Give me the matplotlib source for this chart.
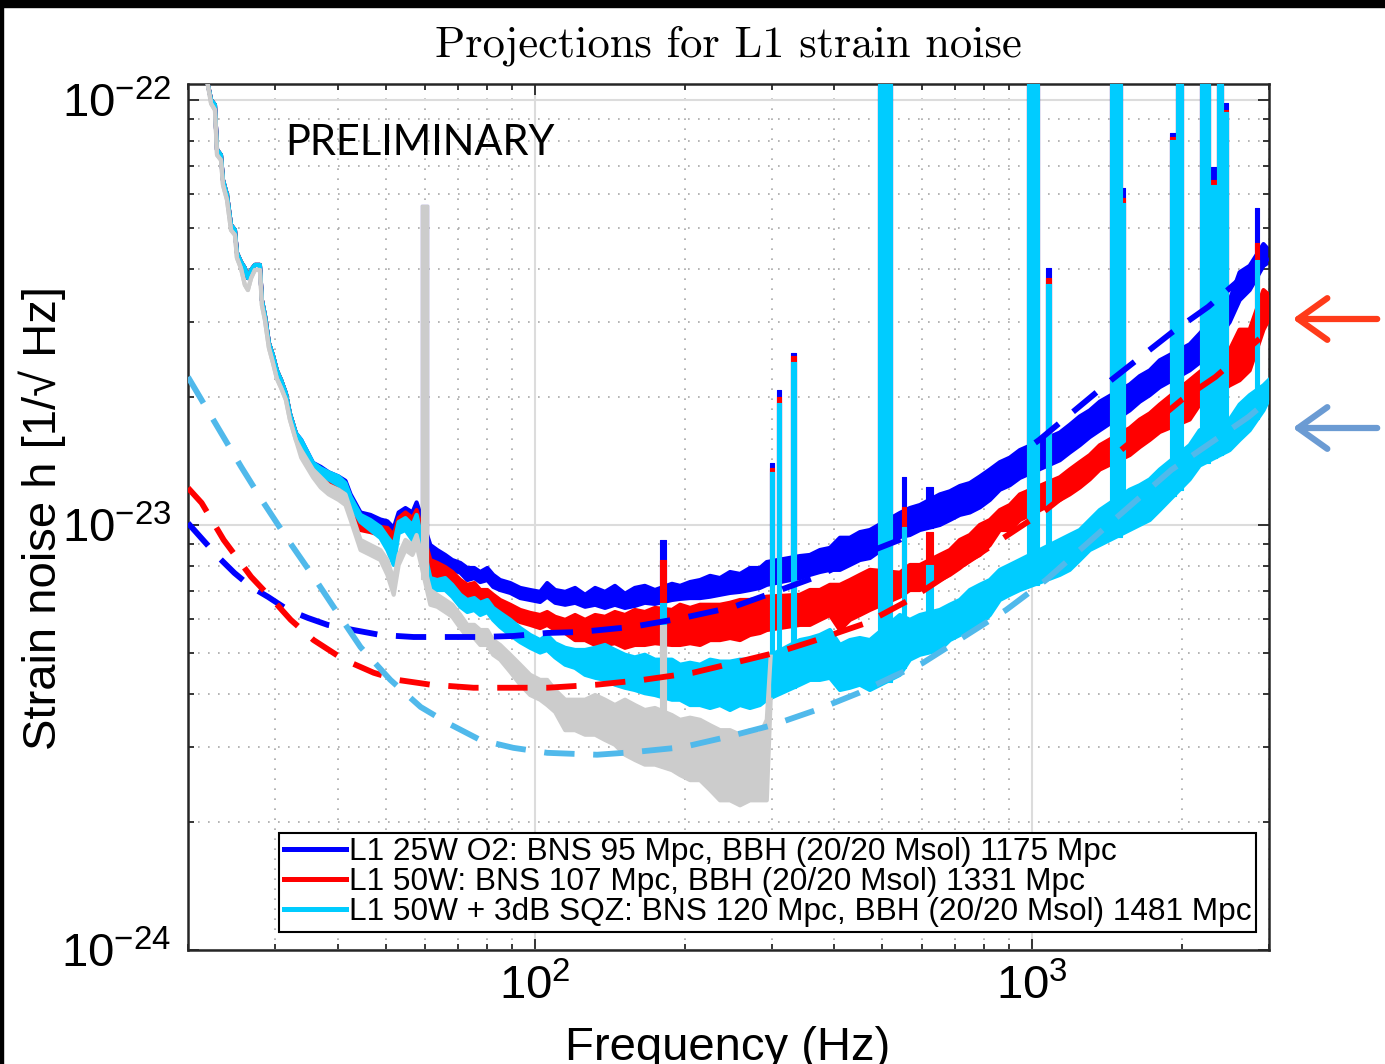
import numpy as np
import matplotlib
matplotlib.use('Agg')
import matplotlib.pyplot as plt
from matplotlib.lines import Line2D
from matplotlib.patches import FancyArrowPatch, Rectangle
from matplotlib.ticker import LogLocator, NullFormatter

### DATA ###
UNIT = 1e-23  # strain values below are in units of 1e-23 /rtHz

# low-frequency wall, shared by the three projections
lf_freq = [21.85, 22.26, 22.66, 22.88, 23.30, 23.52, 23.96, 24.41, 24.86, 25.09, 25.56, 26.03, 26.40,
           26.80, 27.27, 27.91, 28.17, 28.56, 29.10, 29.64, 30.19, 30.80, 31.48, 32.07, 32.97]
lf_strain = [11.1, 10.0, 9.73, 7.63, 7.42, 6.48, 5.98, 5.08, 4.94, 4.37, 4.16, 4.02, 3.81,
             3.98, 4.09, 4.09, 3.38, 3.12, 2.68, 2.51, 2.31, 2.19, 2.04, 1.83, 1.645]
gray_lf_strain = [11.1, 9.8, 9.47, 7.42, 7.22, 6.31, 5.82, 4.94, 4.81, 4.25, 4.02, 3.67, 3.57,
                  3.81, 3.98, 3.98, 3.29, 3.04, 2.61, 2.41, 2.21, 2.10, 1.97, 1.77, 1.585]

# noise band (top / bottom envelope) above ~34 Hz
band_freq = [33.8, 35.7, 37.0, 38.4, 40.2, 41.5, 42.5, 44.5, 46.6, 48.8, 50.4, 51.9, 53.1, 54.8, 56.6,
             57.7, 61.5, 63.5, 65.9, 68.1, 70.7, 73.0, 75.4, 77.5, 80.1, 82.3, 85.0, 89.1, 93.3, 97.7,
             102.3, 105.7, 109.7, 114.9, 120.3, 126.0, 132.0, 138.2, 144.7, 151.6, 158.7, 166.2, 174.2,
             188.5, 195.7, 205.0, 214.7, 224.9, 235.5, 246.7, 258.4, 270.6, 283.4, 292.5, 341.1, 357.3,
             374.2, 392.0, 410.6, 430.0, 450.4, 471.8, 542.1, 567.8, 594.8, 652.5, 683.4, 715.8, 749.8,
             785.3, 822.6, 861.6, 902.4, 945.2, 1138, 1191, 1248, 1307, 1369, 1573, 1648, 1726, 1808,
             2077, 2176, 2500, 2618, 2743, 2924, 2995]

blue_top = [1.585, 1.40, 1.37, 1.33, 1.30, 1.27, 1.18, 1.07, 1.056, 1.03, 1.02, 0.984, 1.07, 1.096, 1.07,
            1.13, 0.897, 0.873, 0.850, 0.827, 0.814, 0.792, 0.792, 0.775, 0.792, 0.763, 0.742, 0.730,
            0.711, 0.703, 0.696, 0.730, 0.703, 0.696, 0.711, 0.685, 0.711, 0.696, 0.719, 0.689, 0.711,
            0.719, 0.703, 0.727, 0.719, 0.734, 0.742, 0.759, 0.750, 0.775, 0.767, 0.792, 0.792, 0.818,
            0.845, 0.850, 0.873, 0.883, 0.933, 0.933, 0.962, 0.973, 1.067, 1.096, 1.114, 1.18, 1.20,
            1.235, 1.255, 1.30, 1.35, 1.405, 1.44, 1.50, 1.65, 1.72, 1.80, 1.86, 1.95, 2.14, 2.24, 2.31,
            2.44, 2.66, 2.82, 3.38, 3.93, 4.07, 4.58, 4.44]
blue_bot = [1.52, 1.36, 1.32, 1.29, 1.25, 1.22, 1.13, 1.03, 1.01, 0.99, 0.978, 0.897, 1.02, 1.045, 1.02,
            1.07, 0.836, 0.818, 0.805, 0.784, 0.772, 0.742, 0.750, 0.734, 0.742, 0.715, 0.703, 0.692,
            0.673, 0.666, 0.659, 0.678, 0.656, 0.649, 0.656, 0.642, 0.649, 0.638, 0.649, 0.638, 0.645,
            0.656, 0.652, 0.666, 0.670, 0.673, 0.673, 0.678, 0.685, 0.692, 0.696, 0.703, 0.711, 0.723,
            0.750, 0.763, 0.775, 0.784, 0.784, 0.805, 0.827, 0.836, 0.937, 0.947, 0.973, 1.0, 1.027,
            1.056, 1.07, 1.10, 1.145, 1.21, 1.24, 1.29, 1.42, 1.48, 1.54, 1.61, 1.67, 1.86, 1.95, 2.02,
            2.11, 2.31, 2.41, 3.00, 3.38, 3.57, 4.07, 4.15]

red_top = [1.54, 1.38, 1.35, 1.31, 1.295, 1.24, 1.145, 1.016, 1.0, 0.989, 0.984, 0.947, 1.038, 1.07, 1.038,
           1.084, 0.827, 0.814, 0.796, 0.775, 0.742, 0.723, 0.730, 0.703, 0.703, 0.685, 0.666, 0.649,
           0.631, 0.621, 0.614, 0.624, 0.608, 0.598, 0.614, 0.598, 0.614, 0.608, 0.624, 0.614, 0.631,
           0.624, 0.638, 0.631, 0.649, 0.638, 0.649, 0.649, 0.649, 0.656, 0.666, 0.666, 0.673, 0.678,
           0.685, 0.703, 0.703, 0.723, 0.723, 0.742, 0.763, 0.784, 0.772, 0.805, 0.805, 0.850, 0.873,
           0.922, 0.947, 1.0, 1.027, 1.084, 1.114, 1.18, 1.295, 1.35, 1.405, 1.46, 1.54, 1.69, 1.77,
           1.83, 1.92, 2.19, 2.29, 2.58, 2.88, 2.88, 3.57, 3.48]
red_bot = [1.50, 1.335, 1.295, 1.255, 1.225, 1.19, 1.096, 0.973, 0.962, 0.947, 0.937, 0.873, 0.984, 1.016,
           0.989, 1.038, 0.763, 0.755, 0.742, 0.723, 0.685, 0.673, 0.685, 0.656, 0.656, 0.631, 0.624,
           0.604, 0.591, 0.582, 0.572, 0.582, 0.566, 0.557, 0.536, 0.536, 0.522, 0.522, 0.527, 0.514,
           0.522, 0.522, 0.527, 0.522, 0.522, 0.527, 0.522, 0.536, 0.536, 0.542, 0.536, 0.551, 0.557,
           0.566, 0.582, 0.582, 0.598, 0.614, 0.566, 0.598, 0.614, 0.631, 0.678, 0.703, 0.703, 0.742,
           0.763, 0.792, 0.827, 0.850, 0.897, 0.973, 0.973, 1.027, 1.145, 1.18, 1.225, 1.28, 1.35, 1.46,
           1.525, 1.585, 1.655, 1.77, 1.92, 2.13, 2.19, 2.31, 2.88, 3.04]

cyan_top = [1.585, 1.40, 1.36, 1.33, 1.30, 1.255, 1.165, 1.056, 1.027, 0.989, 0.937, 0.897, 1.016, 1.038,
            1.0, 1.056, 0.750, 0.742, 0.750, 0.723, 0.685, 0.666, 0.673, 0.656, 0.666, 0.638, 0.621,
            0.598, 0.572, 0.551, 0.536, 0.551, 0.527, 0.514, 0.508, 0.508, 0.514, 0.522, 0.508, 0.495,
            0.488, 0.495, 0.482, 0.482, 0.469, 0.474, 0.469, 0.482, 0.477, 0.477, 0.482, 0.482, 0.488,
            0.488, 0.536, 0.542, 0.551, 0.566, 0.522, 0.536, 0.542, 0.536, 0.614, 0.598, 0.614, 0.631,
            0.649, 0.666, 0.703, 0.723, 0.742, 0.784, 0.805, 0.827, 0.922, 0.947, 0.973, 1.027, 1.084,
            1.21, 1.24, 1.28, 1.35, 1.54, 1.67, 1.77, 1.92, 2.02, 2.13, 2.19]
cyan_bot = [1.52, 1.36, 1.31, 1.28, 1.24, 1.21, 1.114, 1.016, 0.973, 0.932, 0.873, 0.805, 0.957, 0.973,
            0.922, 1.0, 0.696, 0.703, 0.703, 0.678, 0.642, 0.624, 0.631, 0.614, 0.624, 0.598, 0.576,
            0.551, 0.530, 0.514, 0.501, 0.508, 0.488, 0.469, 0.461, 0.444, 0.437, 0.432, 0.421, 0.414,
            0.409, 0.402, 0.398, 0.388, 0.388, 0.377, 0.377, 0.371, 0.377, 0.367, 0.377, 0.371, 0.377,
            0.388, 0.421, 0.432, 0.432, 0.437, 0.409, 0.414, 0.421, 0.409, 0.444, 0.482, 0.495, 0.508,
            0.536, 0.551, 0.566, 0.582, 0.614, 0.666, 0.685, 0.703, 0.763, 0.784, 0.827, 0.873, 0.897,
            0.973, 1.0, 1.027, 1.084, 1.28, 1.38, 1.50, 1.585, 1.67, 1.86, 1.97]

# O2 reference (grey), only up to ~300 Hz
gray_freq = [33.8, 35.7, 37.0, 38.4, 40.2, 41.5, 42.5, 44.5, 46.6, 48.8, 50.4, 51.9, 53.1, 54.8, 56.6,
             57.7, 61.5, 63.5, 65.9, 68.1, 70.7, 73.0, 75.4, 77.5, 80.1, 82.3, 85.0, 89.1, 93.3, 97.7,
             102.3, 105.7, 109.7, 114.9, 120.3, 126.0, 132.0, 138.2, 144.7, 151.6, 158.7, 166.2, 174.2,
             188.5, 195.7, 205.0, 214.7, 224.9, 235.5, 246.7, 258.4, 270.6, 283.4, 292.5, 297.8]
gray_top = [1.50, 1.35, 1.295, 1.24, 1.21, 1.18, 1.084, 0.922, 0.897, 0.873, 0.827, 0.742, 0.850, 0.922,
            0.897, 0.947, 0.703, 0.685, 0.666, 0.649, 0.614, 0.582, 0.582, 0.566, 0.566, 0.536, 0.522,
            0.495, 0.469, 0.444, 0.432, 0.432, 0.409, 0.388, 0.388, 0.388, 0.398, 0.388, 0.377, 0.388,
            0.377, 0.367, 0.371, 0.357, 0.348, 0.352, 0.348, 0.338, 0.329, 0.329, 0.321, 0.329, 0.321,
            0.348, 0.49]
gray_bot = [1.44, 1.295, 1.225, 1.18, 1.145, 1.114, 1.027, 0.873, 0.850, 0.827, 0.763, 0.685, 0.805, 0.873,
            0.850, 0.897, 0.649, 0.642, 0.624, 0.608, 0.572, 0.545, 0.542, 0.522, 0.522, 0.495, 0.482,
            0.451, 0.421, 0.398, 0.388, 0.377, 0.363, 0.329, 0.329, 0.321, 0.321, 0.312, 0.304, 0.288,
            0.280, 0.273, 0.273, 0.265, 0.258, 0.251, 0.251, 0.238, 0.225, 0.225, 0.219, 0.225, 0.225,
            0.225, 0.388]

# spectral lines: frequency span and peak height (20 = off the top of the plot)
spike_f_lo = [58.8, 178.4, 297.0, 307.0, 327.0, 490.0, 548.0, 611.0, 977.0, 1067, 1434, 1517, 1893,
              1953, 2176, 2290, 2360, 2430, 2810]
spike_f_hi = [60.8, 183.0, 303.0, 313.0, 335.0, 523.0, 558.0, 632.0, 1033, 1091, 1517, 1540, 1953,
              2010, 2279, 2360, 2420, 2480, 2870]
blue_spike = [5.66, 0.922, 1.40, 2.08, 2.54, 20, 1.30, 1.23, 20, 4.02, 20, 6.21, 8.38, 20, 20, 6.96, 20, 9.84, 5.56]
red_spike = [5.66, 0.827, 1.36, 2.00, 2.50, 20, 1.10, 0.96, 20, 3.81, 20, 5.87, 8.16, 20, 20, 6.48, 20, 9.47, 4.61]
cyan_spike = [5.66, 0.655, 1.33, 1.94, 2.42, 20, 0.99, 0.805, 20, 3.69, 20, 5.71, 8.05, 20, 20, 6.31, 20, 9.35, 4.20]
gray_spike_f_lo = [58.8, 178.4]
gray_spike_f_hi = [60.8, 183.0]
gray_spike = [5.66, 0.582]

# model projections (dashed)
o2_model_freq = [20.0, 23.0, 24.8, 26.8, 29.0, 31.8, 34.9, 38.2, 43.1, 48.8, 56.9, 66.6, 77.5, 90.3, 105.7,
                 123.1, 157.3, 198, 250, 300, 368, 464, 541, 1034, 1446, 1907, 2263, 2808, 2995]
o2_model = [1.01, 0.841, 0.771, 0.715, 0.677, 0.631, 0.604, 0.582, 0.566, 0.551, 0.545, 0.545, 0.545, 0.548,
            0.557, 0.560, 0.576, 0.604, 0.641, 0.692, 0.755, 0.859, 0.922, 1.585, 2.195, 2.83, 3.26, 4.05, 4.25]
w50_model_freq = [20, 21.3, 23.6, 26.8, 29.4, 32.2, 35.8, 41.2, 47.3, 52.8, 61.5, 75.1, 90.3, 105.7, 133.2,
                  164.7, 207.7, 250, 310, 368, 464, 566, 1067, 1446, 2000, 2341, 2900, 2995]
w50_model = [1.222, 1.127, 0.922, 0.755, 0.673, 0.598, 0.536, 0.482, 0.449, 0.432, 0.421, 0.414, 0.414, 0.414,
             0.421, 0.432, 0.449, 0.473, 0.503, 0.536, 0.588, 0.666, 1.085, 1.438, 1.968, 2.230, 2.770, 2.843]
sqz_model_freq = [20, 22.5, 25.6, 28.4, 31.8, 35.8, 40.0, 44.5, 51.1, 58.8, 66.6, 77.5, 90.3, 105.7, 133.2,
                  157.3, 198, 243, 300, 368, 449, 523, 602, 887, 1067, 1408, 1907, 2727, 2995]
sqz_model = [2.229, 1.766, 1.369, 1.127, 0.922, 0.755, 0.621, 0.516, 0.432, 0.373, 0.342, 0.312, 0.299, 0.291,
             0.288, 0.292, 0.300, 0.317, 0.338, 0.367, 0.403, 0.439, 0.473, 0.631, 0.742, 0.989, 1.347, 1.795, 1.968]

legend_labels = ['L1 25W O2: BNS 95 Mpc, BBH (20/20 Msol) 1175 Mpc',
                 'L1 50W: BNS 107 Mpc, BBH (20/20 Msol) 1331 Mpc',
                 'L1 50W + 3dB SQZ: BNS 120 Mpc, BBH (20/20 Msol) 1481 Mpc']

BLUE, RED, CYAN, GRAY, LIGHTBLUE = '#0000ff', '#ff0000', '#00ccff', '#cccccc', '#50b9eb'
W, H = 1385, 1064

plt.rcParams['font.family'] = ['Liberation Sans', 'DejaVu Sans']
plt.rcParams['mathtext.fontset'] = 'custom'
plt.rcParams['mathtext.rm'] = 'Liberation Sans'
plt.rcParams['mathtext.it'] = 'Liberation Sans:italic'
plt.rcParams['mathtext.bf'] = 'Liberation Sans:bold'


### FUNCTIONS ###
def log_interp(x, xs, ys):
    return np.exp(np.interp(np.log(x), np.log(xs), np.log(ys)))


# Draw one measured curve: thin wall + noise band + line spikes
def draw_curve(ax, lf_vals, freq, top, bot, s_lo, s_hi, s_top, color, z):
    f = np.array(lf_freq + freq)
    t = np.array(lf_vals + top) * UNIT
    b = np.array(lf_vals + bot) * UNIT
    ax.fill_between(f, b, t, color=color, lw=0, zorder=z)
    ax.plot(f, t, color=color, lw=3.0, zorder=z)
    ax.plot(f, b, color=color, lw=3.0, zorder=z)
    for lo, hi, pk in zip(s_lo, s_hi, s_top):
        base = log_interp(0.5 * (lo + hi), f, b)
        ax.fill_between([lo, hi], [base, base], [pk * UNIT, pk * UNIT], color=color, lw=0.8,
                        edgecolor=color, zorder=z)


def main():
    fig = plt.figure(figsize=(W / 100, H / 100), dpi=100)
    ax = fig.add_axes([188 / W, 1 - 950 / H, (1269 - 188) / W, (950 - 84) / H])
    ax.set_xscale('log')
    ax.set_yscale('log')

    draw_curve(ax, lf_strain, band_freq, blue_top, blue_bot, spike_f_lo, spike_f_hi, blue_spike, BLUE, 2)
    draw_curve(ax, lf_strain, band_freq, red_top, red_bot, spike_f_lo, spike_f_hi, red_spike, RED, 3)
    draw_curve(ax, lf_strain, band_freq, cyan_top, cyan_bot, spike_f_lo, spike_f_hi, cyan_spike, CYAN, 4)
    draw_curve(ax, gray_lf_strain, gray_freq, gray_top, gray_bot, gray_spike_f_lo, gray_spike_f_hi,
               gray_spike, GRAY, 5)

    dash = (0, (5.2, 3.2))
    ax.plot(o2_model_freq, np.array(o2_model) * UNIT, color=BLUE, lw=4.2, ls=dash, zorder=6)
    ax.plot(w50_model_freq, np.array(w50_model) * UNIT, color=RED, lw=4.2, ls=dash, zorder=6)
    ax.plot(sqz_model_freq, np.array(sqz_model) * UNIT, color=LIGHTBLUE, lw=4.2, ls=dash, zorder=6)

    ax.set_xlim(20, 3000)
    ax.set_ylim(1e-24, 1.09e-22)

    # ticks and grid, MATLAB style
    ax.set_xticks([100, 1000])
    ax.set_xticklabels([r'$10^2$', r'$10^3$'])
    ax.set_yticks([1e-24, 1e-23, 1e-22])
    ax.set_yticklabels([r'$10^{-24}$', r'$10^{-23}$', r'$10^{-22}$'])
    ax.xaxis.set_minor_locator(LogLocator(base=10, subs=np.arange(2, 10)))
    ax.yaxis.set_minor_locator(LogLocator(base=10, subs=np.arange(2, 10)))
    ax.xaxis.set_minor_formatter(NullFormatter())
    ax.yaxis.set_minor_formatter(NullFormatter())
    ax.tick_params(which='both', direction='in', top=True, right=True, width=1.3, color='#262626')
    ax.tick_params(which='major', length=8, labelsize=34)
    ax.tick_params(which='minor', length=4)
    ax.tick_params(axis='y', which='major', pad=12)
    ax.tick_params(axis='x', which='major', pad=10)
    ax.set_axisbelow(True)
    ax.grid(which='major', color='#dcdcdc', lw=1.5, ls='-')
    ax.grid(which='minor', color='#a8a8a8', lw=1.2, ls=(0, (1, 5)))
    for sp in ax.spines.values():
        sp.set_linewidth(1.8)
        sp.set_color('#262626')

    ax.text((285 - 188) / 1081, (950 - 143) / 866, 'PRELIMINARY', transform=ax.transAxes,
            family=['Lato', 'DejaVu Sans'], fontsize=30, va='center', ha='left', zorder=10)

    handles = [Line2D([], [], color=c, lw=3.6) for c in (BLUE, RED, CYAN)]
    leg = ax.legend(handles, legend_labels, loc='lower left',
                    bbox_to_anchor=((279 - 188) / 1081, (950 - 932) / 866), borderaxespad=0,
                    fancybox=False, edgecolor='black', framealpha=1, fontsize=22.8,
                    handlelength=1.95, handletextpad=0.1, borderpad=0.15, labelspacing=0.0)
    leg.get_frame().set_linewidth(1.5)
    leg.set_zorder(20)

    fig.text(728 / W, 1 - 46 / H, 'Projections for L1 strain noise', family='cmr10', fontsize=32,
             ha='center', va='center')
    fig.text(42 / W, 1 - 518 / H, 'Strain noise h [1/\u221a Hz]', fontsize=34, rotation=90,
             ha='center', va='center')
    fig.text(728 / W, 4 / H, 'Frequency (Hz)', fontsize=34, ha='center', va='baseline')

    # side arrows marking the two high-frequency levels
    for y, c in ((319, '#ff3b1a'), (428, '#6b9bd3')):
        fig.patches.append(FancyArrowPatch((1380 / W, 1 - y / H), (1290 / W, 1 - y / H),
                                           transform=fig.transFigure, color=c, lw=4.5,
                                           arrowstyle='->,head_length=0.7,head_width=0.5',
                                           mutation_scale=30))

    # black strips at the top and left edges of the screenshot
    fig.patches.append(Rectangle((0, 1 - 7 / H), 1, 7 / H, transform=fig.transFigure, color='black'))
    fig.patches.append(Rectangle((0, 0), 3 / W, 1, transform=fig.transFigure, color='black'))

    fig.savefig('out.png', dpi=100)


if __name__ == '__main__':
    main()
